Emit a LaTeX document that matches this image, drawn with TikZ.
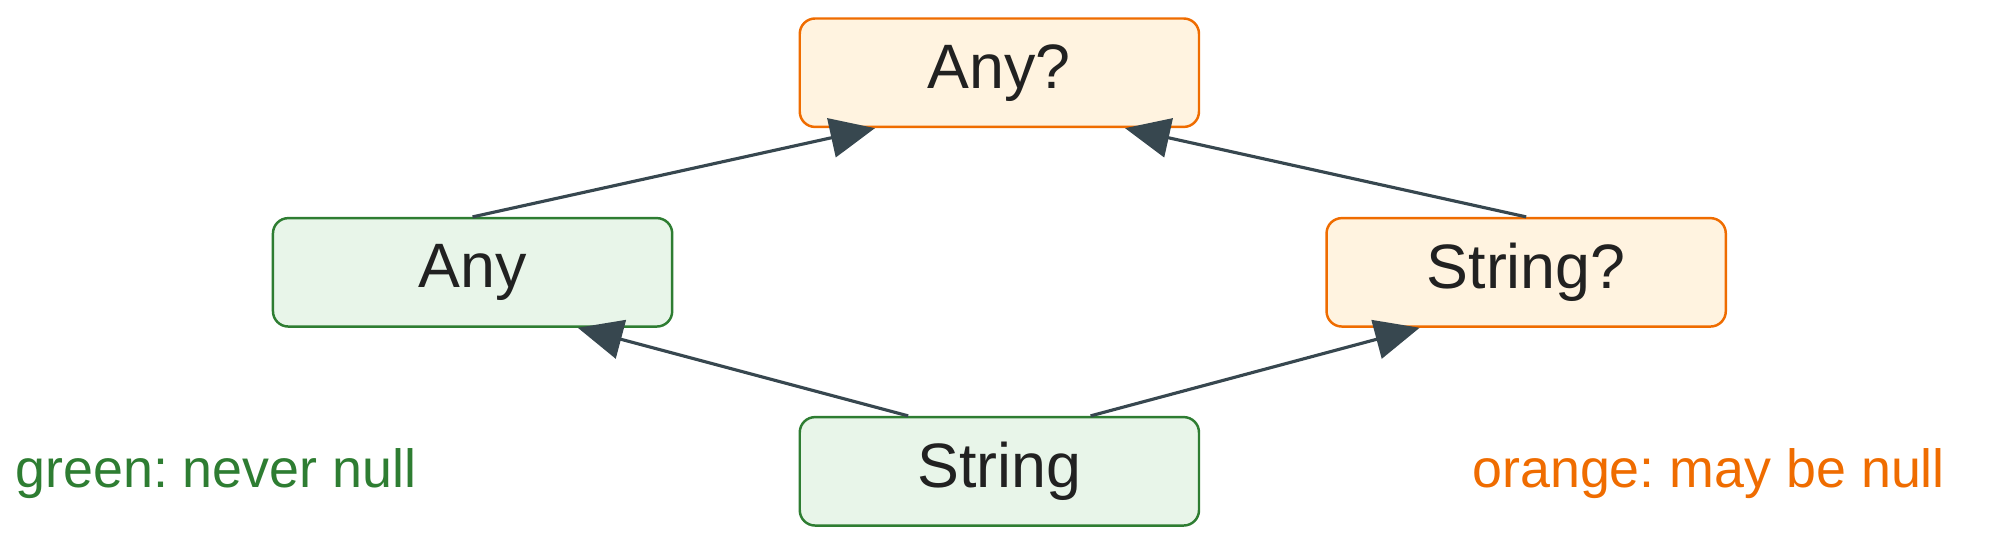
\documentclass[tikz,border=0pt]{standalone}
\usepackage{fontspec}
\setmainfont{Liberation Sans}
\frenchspacing
\usetikzlibrary{arrows.meta}
\definecolor{greenline}{HTML}{2E7D32}
\definecolor{greenfill}{HTML}{E8F5E9}
\definecolor{orangeline}{HTML}{EF6C00}
\definecolor{orangefill}{HTML}{FFF3E0}
\definecolor{edgecol}{HTML}{37474F}
\definecolor{textcol}{HTML}{212121}

\begin{document}
\begin{tikzpicture}[
    box/.style={rectangle, rounded corners=0.24cm, line width=1.1pt,
        minimum width=6.26cm, minimum height=1.7cm, text=textcol,
        font=\fontsize{28}{32}\selectfont},
    nonnull/.style={box, draw=greenline, fill=greenfill},
    nullable/.style={box, draw=orangeline, fill=orangefill},
    sub/.style={draw=edgecol, line width=1.4pt,
        -{Triangle[length=0.7cm,width=0.62cm]}},
    legend/.style={font=\fontsize{24}{28}\selectfont}
]
    \useasboundingbox (0,0) rectangle (31.36,-8.54);

    \node[nullable] (anyq) at (15.67,-1.14) {Any?};
    \node[nonnull] (any) at (7.41,-4.27) {Any};
    \node[nullable] (stringq) at (23.93,-4.27) {String?};
    \node[nonnull] (string) at (15.67,-7.39) {String};

    \draw[sub] (any.north) -- ([xshift=-1.95cm]anyq.south);
    \draw[sub] (stringq.north) -- ([xshift=1.97cm]anyq.south);
    \draw[sub] ([xshift=-1.43cm]string.north) -- ([xshift=1.65cm]any.south);
    \draw[sub] ([xshift=1.43cm]string.north) -- ([xshift=-1.67cm]stringq.south);

    \node[legend, text=greenline, anchor=west] (leggreen) at (0.12,-7.42) {green: never null};
    \node[legend, text=orangeline, anchor=east] (legorange) at (30.62,-7.42) {orange: may be null};
\end{tikzpicture}
\end{document}
